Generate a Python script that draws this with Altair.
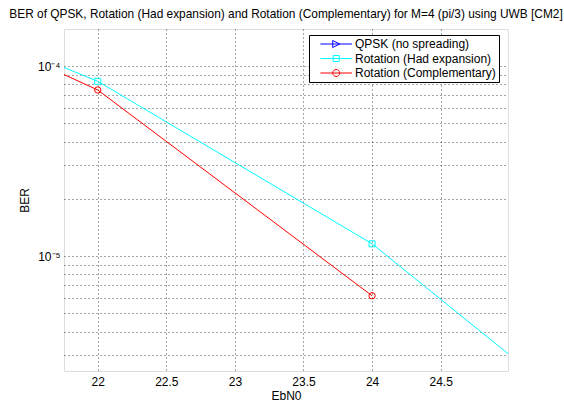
import altair as alt
import pandas as pd

# ---- data ----
series_names = ["QPSK (no spreading)", "Rotation (Had expansion)", "Rotation (Complementary)"]
series_colors = ["#0000ff", "#00ffff", "#ff0000"]

# QPSK curve is not visible inside the zoomed window (legend entry only)
ebn0_qpsk = []
ber_qpsk = []

ebn0_had = [20, 22, 24, 26]
ber_had = [3.24e-4, 8.31e-5, 1.16e-5, 7.9e-7]

ebn0_comp = [20, 22, 24]
ber_comp = [3.42e-4, 7.48e-5, 6.18e-6]

x_ticks = [22, 22.5, 23, 23.5, 24, 24.5]
y_grid = [3e-6, 4e-6, 5e-6, 6e-6, 7e-6, 8e-6, 9e-6,
          1e-5, 2e-5, 3e-5, 4e-5, 5e-5, 6e-5, 7e-5, 8e-5, 9e-5, 1e-4]
x_domain = [21.754, 24.991]
y_domain = [2.483e-6, 1.566e-4]

title_text = ("BER of QPSK, Rotation (Had expansion) and Rotation (Complementary) "
              "for M=4 (pi/3) using UWB [CM2]")

rows = []
for name, xs, ys in [(series_names[0], ebn0_qpsk, ber_qpsk),
                     (series_names[1], ebn0_had, ber_had),
                     (series_names[2], ebn0_comp, ber_comp)]:
    for xv, yv in zip(xs, ys):
        rows.append({"series": name, "ebn0": xv, "ber": yv})
df = pd.DataFrame(rows)

FONT = "Liberation Sans, Arial, Helvetica, sans-serif"

color_scale = alt.Scale(domain=series_names, range=series_colors)
# scale for the drawn curves (only the series that have visible data)
stroke_scale = alt.Scale(domain=series_names[1:], range=series_colors[1:])

# legend symbols: a line segment with the marker in its middle (MATLAB style)
leg_line = "M0.6,0L8.5,0"
leg_shapes = [
    leg_line + "M3.675,-0.875L5.425,0L3.675,0.875Z",
    leg_line + "M3.8,-0.75L5.3,-0.75L5.3,0.75L3.8,0.75Z",
    leg_line + "M5.425,0A0.875,0.875,0,1,1,3.675,0A0.875,0.875,0,1,1,5.425,0",
]
shape_scale = alt.Scale(domain=series_names, range=leg_shapes)

x_enc = alt.X(
    "ebn0:Q",
    scale=alt.Scale(domain=x_domain, nice=False, zero=False),
    axis=alt.Axis(
        values=x_ticks, format="~g", grid=True, gridDash=[1, 3], gridColor="#000",
        gridOpacity=0.7, domain=False, ticks=False, tickSize=0,
        labelFont=FONT, labelFontSize=12, labelColor="#000", labelPadding=5,
        labelFlush=False, labelOverlap=False,
        title="EbN0", titleFont=FONT, titleFontSize=12, titleFontWeight="normal",
        titleColor="#000", titlePadding=3,
    ),
)
y_enc = alt.Y(
    "ber:Q",
    scale=alt.Scale(type="log", domain=y_domain, nice=False),
    axis=alt.Axis(
        values=y_grid,
        labelExpr="datum.value == 1e-4 ? '10⁻⁴' : (datum.value == 1e-5 ? '10⁻⁵' : '')",
        grid=True, gridDash=[1, 3], gridColor="#000", gridOpacity=0.7,
        domain=False, ticks=False, tickSize=0,
        labelFont=FONT, labelFontSize=12, labelColor="#000", labelPadding=4,
        labelOverlap=False, labelFlush=False,
        title="BER", titleFont=FONT, titleFontSize=12, titleFontWeight="normal",
        titleColor="#000", titlePadding=6,
    ),
)

base = alt.Chart(df)

stroke_enc = alt.Stroke("series:N", scale=stroke_scale, legend=None)

lines = base.mark_line(clip=True, strokeWidth=1).encode(
    x=x_enc, y=y_enc, stroke=stroke_enc,
)

pts_had = base.transform_filter(alt.datum.series == series_names[1]).mark_point(
    shape="square", filled=False, size=36, strokeWidth=1, opacity=1, clip=True
).encode(x="ebn0:Q", y="ber:Q", stroke=stroke_enc)

pts_comp = base.transform_filter(alt.datum.series == series_names[2]).mark_point(
    shape="circle", filled=False, size=40, strokeWidth=1, opacity=1, clip=True
).encode(x="ebn0:Q", y="ber:Q", stroke=stroke_enc)

legend = alt.Legend(
    title=None, orient="none", legendX=245, legendY=6,
    strokeColor="#000", fillColor="#fff", padding=3,
    labelFont=FONT, labelFontSize=12, labelColor="#000", labelLimit=0,
    symbolSize=64, symbolStrokeWidth=1, symbolOpacity=1,
    labelOffset=31, rowPadding=2.5,
)

legend_layer = base.mark_point(
    filled=False, opacity=0, size=64, strokeWidth=1, clip=True
).encode(
    x="ebn0:Q", y="ber:Q",
    color=alt.Color("series:N", scale=color_scale, legend=legend),
    shape=alt.Shape("series:N", scale=shape_scale, legend=legend),
)

chart = alt.layer(lines, pts_had, pts_comp, legend_layer).properties(
    width=444, height=342,
    padding={"left": 64, "top": 29, "right": 56, "bottom": 30},
    autosize=alt.AutoSizeParams(type="none"),
    title=alt.Title(
        text=title_text, anchor="middle", frame="group", font=FONT, fontSize=11.9,
        fontWeight="normal", color="#000", offset=8,
    ),
).configure_view(stroke="#000", strokeWidth=1, fill="#fff").configure(background="#fff")

chart.save("out.html", embed_options={"renderer": "svg", "actions": False})
